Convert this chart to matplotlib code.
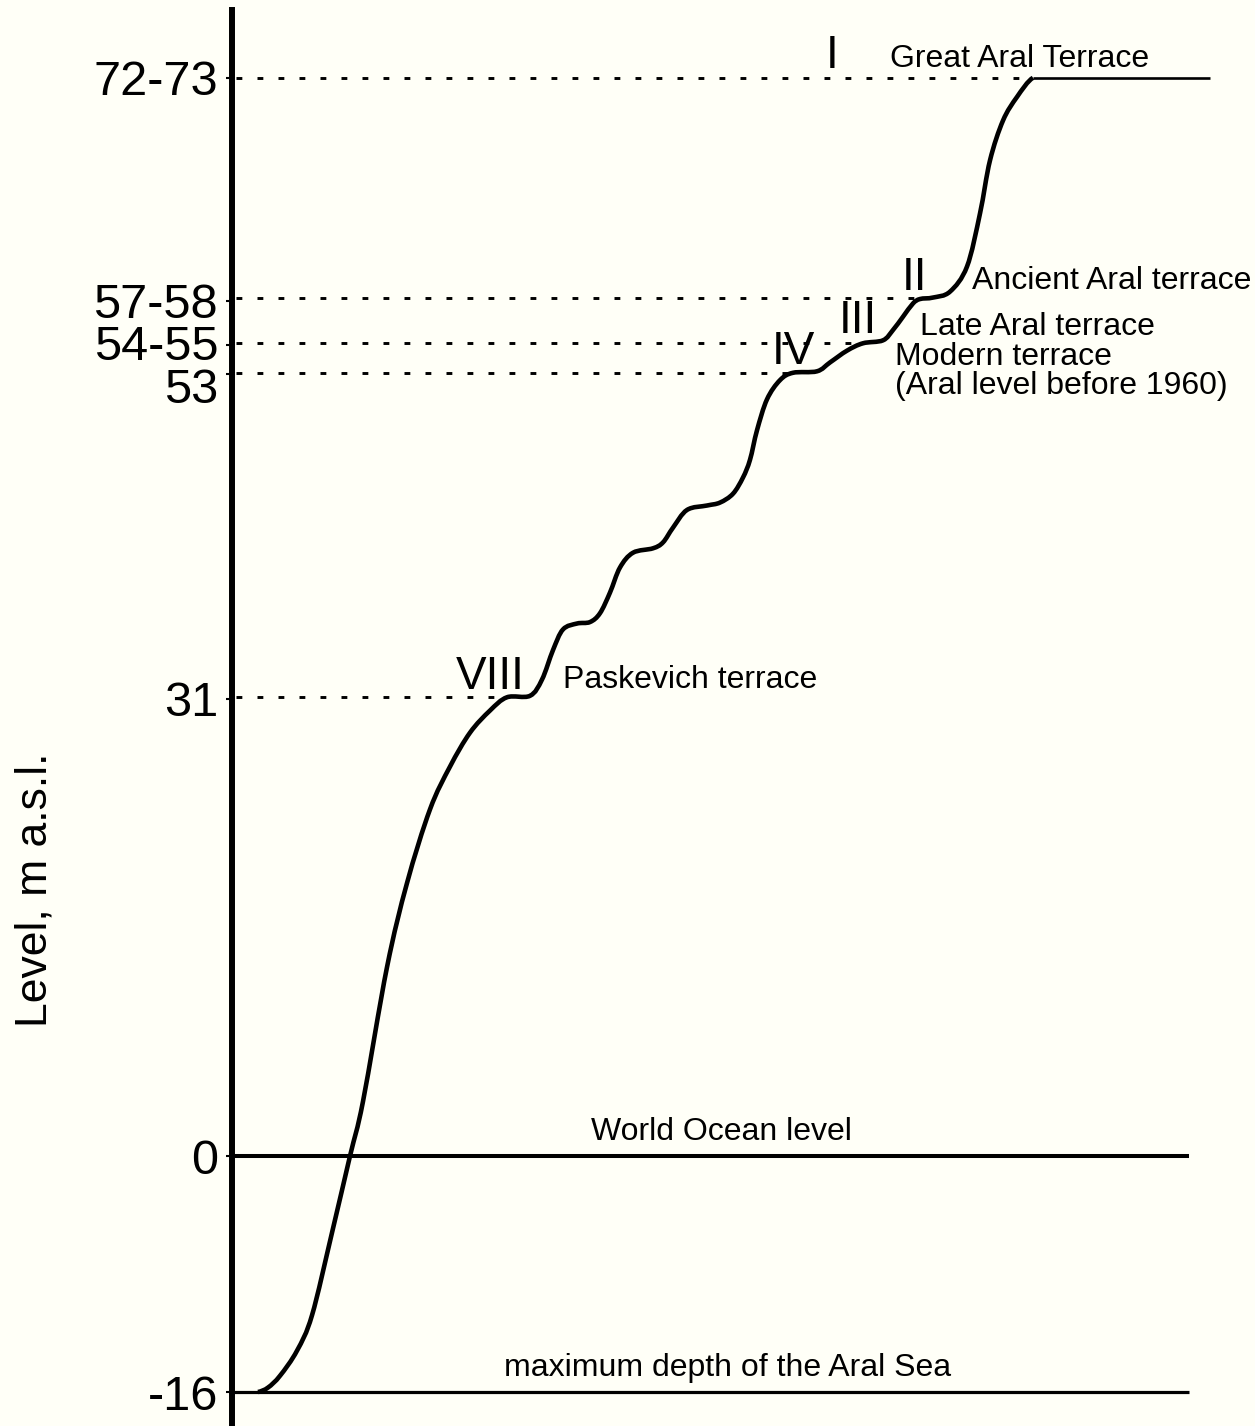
import matplotlib
matplotlib.use("Agg")
import matplotlib.pyplot as plt
import matplotlib.transforms as mtransforms
from matplotlib.path import Path
from matplotlib.patches import PathPatch

plt.rcParams['font.family'] = ['Liberation Sans', 'DejaVu Sans']

# Profile of the Aral basin (schematic): distance (arbitrary units) vs level (m a.s.l.)
profile_x = [2.6, 3.6, 4.8, 6.5, 8.0, 10.0, 11.8, 13.1, 15.5, 17.5, 19.8, 21.8, 23.8,
             25.8, 27.5,
             29.8, 31.0, 32.1, 33.1, 34.5, 35.8, 36.8, 37.8, 38.8, 40.1, 42.1, 43.1,
             44.1, 45.5, 47.5, 48.8, 50.1, 51.1, 51.8, 52.5, 53.5, 54.8, 56.1, 58.5,
             59.8, 61.5, 63.1, 65.1, 66.1, 67.1, 68.1, 68.8, 70.1, 71.8, 73.5, 74.8,
             75.8, 77.1, 78.5, 80.1]
profile_y = [-16.0, -15.7, -14.9, -13.2, -10.8, -5.2, 0.0, 3.7, 12.8, 18.5, 23.5, 26.4,
             28.7, 30.2, 31.1,
             31.2, 32.3, 34.3, 35.7, 36.1, 36.2, 36.8, 38.2, 39.9, 40.9, 41.2, 41.6,
             42.6, 43.8, 44.1, 44.3, 44.9, 46.0, 47.2, 49.2, 51.3, 52.6, 53.1, 53.2,
             53.8, 54.6, 55.1, 55.3, 56.0, 56.9, 57.8, 58.1, 58.2, 58.6, 60.3, 63.9,
             67.5, 70.2, 71.8, 73.1]
# Great Aral terrace plateau
plateau_x = [80.1, 97.8]
plateau_y = [73.1, 73.1]

tick_values = [-16, 0, 31, 53, 55, 58, 73.1]
tick_labels = ["-16", "0", "31", "53", "54-55", "57-58", "72-73"]

# dotted guide lines: level and x where terrace begins
terrace_levels = [73.1, 58.2, 55.1, 53.1, 31.1]
terrace_start_x = [80.1, 68.8, 63.1, 56.1, 27.5]

# solid reference levels
ref_levels = [0, -16]
ref_labels = ["World Ocean level", "maximum depth of the Aral Sea"]
ref_end_x = 95.7

# terrace annotations
roman = ["I", "II", "III", "IV", "VIII"]
roman_x = [60.0, 68.3, 62.6, 56.1, 25.8]
roman_y = [74.6, 59.5, 56.6, 54.5, 32.5]
names = ["Great Aral Terrace", "Ancient Aral terrace", "Late Aral terrace",
         "Modern terrace", "(Aral level before 1960)", "Paskevich terrace"]
names_x = [65.8, 74.0, 68.8, 66.3, 66.3, 33.1]
names_y = [74.4, 59.3, 56.2, 54.2, 52.2, 32.3]

bg = '#fffff7'
fig = plt.figure(figsize=(12.55, 14.26), dpi=100, facecolor=bg)
ax = fig.add_axes([232 / 1255, 0.0, 1 - 232 / 1255, 1 - 10 / 1426])
ax.set_facecolor(bg)
ax.set_xlim(0, (1255 - 232) / 10)
ax.set_ylim((1156 - 1426) / 14.75, (1156 - 10) / 14.75)

for s in ['top', 'right', 'bottom']:
    ax.spines[s].set_visible(False)
ax.spines['left'].set_linewidth(4.3)
ax.spines['left'].set_color('black')
ax.set_xticks([])
ax.set_yticks(tick_values)
ax.set_yticklabels(tick_labels, fontsize=35)
ax.tick_params(axis='y', length=4, width=1.5, pad=6, direction='out')
# label offsets as in the reference ("53" sits lower, "54-55" slightly higher)
offsets_px = {"53": -11, "54-55": 2}
for lab in ax.get_yticklabels():
    off = offsets_px.get(lab.get_text())
    if off:
        lab.set_transform(lab.get_transform() +
                          mtransforms.ScaledTranslation(0, off / 100, fig.dpi_scale_trans))

# dotted guide lines
for lv, xs in zip(terrace_levels, terrace_start_x):
    ax.plot([0.4, xs], [lv, lv], color='black', lw=2.1, linestyle=(0, (2.0, 5.2)),
            dash_capstyle='butt', zorder=2)

# solid reference lines
ax.plot([0, ref_end_x], [ref_levels[0]] * 2, color='black', lw=2.9, solid_capstyle='butt')
ax.plot([0, ref_end_x], [ref_levels[1]] * 2, color='black', lw=2.3, solid_capstyle='butt')
ax.text(48.9, 1.6, ref_labels[0], fontsize=23, ha='center', va='center')
ax.text(49.6, -14.4, ref_labels[1], fontsize=23, ha='center', va='center')

# profile curve drawn as a smooth path through the read points (Catmull-Rom -> Bezier)
pts = list(zip(profile_x, profile_y))
verts = [pts[0]]
codes = [Path.MOVETO]
n = len(pts)
for i in range(n - 1):
    p0 = pts[i - 1] if i > 0 else (pts[i][0] - (pts[i + 1][0] - pts[i][0]), pts[i][1])
    p1 = pts[i]
    p2 = pts[i + 1]
    p3 = pts[i + 2] if i + 2 < n else (p2[0] + (p2[0] - p1[0]), p2[1])
    c1 = (p1[0] + (p2[0] - p0[0]) / 6, p1[1] + (p2[1] - p0[1]) / 6)
    c2 = (p2[0] - (p3[0] - p1[0]) / 6, p2[1] - (p3[1] - p1[1]) / 6)
    verts += [c1, c2, p2]
    codes += [Path.CURVE4] * 3
ax.add_patch(PathPatch(Path(verts, codes), facecolor='none', edgecolor='black',
                       lw=3.3, capstyle='butt', joinstyle='round', zorder=3))
ax.plot(plateau_x, plateau_y, color='black', lw=1.9, solid_capstyle='butt', zorder=3)

for t, x, y in zip(roman, roman_x, roman_y):
    ax.text(x, y, t, fontsize=33, ha='center', va='center', zorder=4)
for t, x, y in zip(names, names_x, names_y):
    ax.text(x, y, t, fontsize=23, ha='left', va='center', zorder=4)

fig.text(35 / 1255, 1 - 890 / 1426, "Level, m a.s.l.", fontsize=32, rotation=90,
         ha='center', va='center')

fig.savefig("out.png", dpi=100, facecolor=bg)
